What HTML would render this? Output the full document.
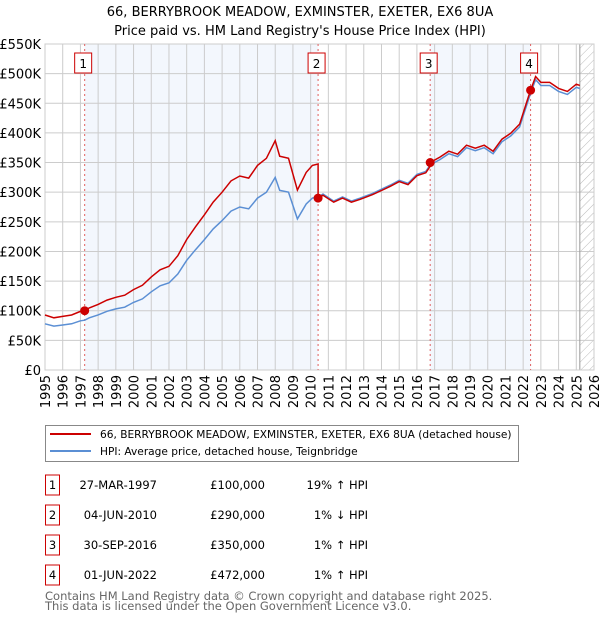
<!DOCTYPE html>
<html><head><meta charset="utf-8"><style>
body{margin:0;background:#fff;font-family:"DejaVu Sans","Liberation Sans",sans-serif;}
#wrap{position:relative;width:600px;height:620px;overflow:hidden}
text{font-family:"DejaVu Sans","Liberation Sans",sans-serif}
</style></head><body><div id="wrap">
<svg id="svg" width="600" height="620"></svg>
</div>
<script>
const hpiDates=[1995.0,1995.5,1996,1996.5,1997.0,1997.24,1997.5,1998,1998.5,1999,1999.5,2000,2000.5,2001,2001.5,2002,2002.5,2003,2003.5,2004,2004.5,2005,2005.5,2006,2006.5,2007,2007.5,2008,2008.25,2008.75,2009.25,2009.75,2010.1,2010.42,2010.7,2011.3,2011.8,2012.3,2012.8,2013.5,2014,2014.5,2015,2015.5,2016,2016.5,2016.75,2017.3,2017.8,2018.3,2018.8,2019.3,2019.8,2020.3,2020.8,2021.3,2021.8,2022.42,2022.7,2023.0,2023.5,2024.0,2024.5,2025.0,2025.2];
const hpiValues=[78,74,76,78,83,84,88,93,99,103,106,114,120,132,142,147,162,185,203,220,238,252,268,275,272,290,300,325,303,300,255,280,290,292,297,285,292,285,290,298,305,312,320,315,330,335,346,355,365,360,375,370,375,365,385,395,410,467,490,480,480,470,465,477,475];
const saleLabels=["1","2","3","4"];
const saleDates=[1997.24,2010.42,2016.75,2022.42];
const salePrices=[100,290,350,472];
const yTicks=[0,50,100,150,200,250,300,350,400,450,500,550];
const xYears=[1995,1996,1997,1998,1999,2000,2001,2002,2003,2004,2005,2006,2007,2008,2009,2010,2011,2012,2013,2014,2015,2016,2017,2018,2019,2020,2021,2022,2023,2024,2025,2026];
const rows=[["1","27-MAR-1997","£100,000","19% ↑ HPI"],["2","04-JUN-2010","£290,000","1% ↓ HPI"],["3","30-SEP-2016","£350,000","1% ↑ HPI"],["4","01-JUN-2022","£472,000","1% ↑ HPI"]];

const L=45,R=594,T=44,B=370;
const X=y=>L+(y-1995)/(2026-1995)*(R-L);
const Y=v=>B-v/550*(B-T);
const svg=document.getElementById('svg');const NS='http://www.w3.org/2000/svg';
function mk(tag,at,name,parent){const e=document.createElementNS(NS,tag);for(const k in at)e.setAttribute(k,at[k]);


(parent||svg).appendChild(e);return e;}
function hpiAt(d){for(let i=1;i<hpiDates.length;i++){if(d<=hpiDates[i]){const t=(d-hpiDates[i-1])/(hpiDates[i]-hpiDates[i-1]);return hpiValues[i-1]+t*(hpiValues[i]-hpiValues[i-1]);}}return hpiValues[hpiValues.length-1];}
mk('rect',{x:X(saleDates[0]),y:T,width:X(saleDates[1])-X(saleDates[0]),height:B-T,fill:'#eef3fc',opacity:0.7},'shade-1');
mk('rect',{x:X(saleDates[2]),y:T,width:X(saleDates[3])-X(saleDates[2]),height:B-T,fill:'#eef3fc',opacity:0.7},'shade-3');
const defs=mk('defs',{},'defs');
const pat=mk('pattern',{id:'hatch',width:6,height:6,patternUnits:'userSpaceOnUse',patternTransform:'rotate(45)'},'hatch-pattern',defs);
mk('line',{x1:0,y1:0,x2:0,y2:6,stroke:'#bbb','stroke-width':1},'hatch-line',pat);
mk('rect',{x:X(2025.2),y:T,width:R-X(2025.2),height:B-T,fill:'url(#hatch)'},'future-hatch');
yTicks.forEach(v=>{mk('line',{x1:L,x2:R,y1:Y(v),y2:Y(v),stroke:'#ccc'},'y-gridline');
const t=mk('text',{x:L-4,y:Y(v)+5,'text-anchor':'end','font-size':13,fill:'#000'},'y-tick-label');t.textContent=v===0?'£0':'£'+v+'K';});
xYears.forEach(yr=>{mk('line',{x1:X(yr),x2:X(yr),y1:T,y2:B,stroke:'#ccc'},'x-gridline');
const t=mk('text',{transform:`translate(${X(yr)+5},${B+5}) rotate(-90)`,'text-anchor':'end','font-size':13,fill:'#000'},'x-tick-label');t.textContent=yr;});
mk('line',{x1:X(2025.2),x2:X(2025.2),y1:T,y2:B,stroke:'#999'},'data-end-line');
mk('rect',{x:L,y:T,width:R-L,height:B-T,fill:'none',stroke:'#ccc'},'plot-border');
saleDates.forEach(d=>mk('line',{x1:X(d),x2:X(d),y1:T,y2:B,stroke:'#e06060','stroke-dasharray':'2,3'},'sale-marker-line'));
let p='';hpiDates.forEach((d,i)=>p+=(i?'L':'M')+X(d).toFixed(1)+','+Y(hpiValues[i]).toFixed(1));
mk('path',{d:p,fill:'none',stroke:'#5b8fd4','stroke-width':1.5},'hpi-line');
const ratios=saleDates.map((d,i)=>salePrices[i]/hpiAt(d));
let rp='';hpiDates.forEach((d,i)=>{let k=0;for(let j=0;j<saleDates.length;j++)if(d>=saleDates[j])k=j;
if(saleDates.indexOf(d)>0){const j=saleDates.indexOf(d);rp+='L'+X(d).toFixed(1)+','+Y(hpiValues[i]*ratios[j-1]).toFixed(1);}
rp+=(i?'L':'M')+X(d).toFixed(1)+','+Y(hpiValues[i]*ratios[k]).toFixed(1);
if(i+1<hpiDates.length){saleDates.forEach((sd,j)=>{if(sd>d&&sd<hpiDates[i+1]){rp+='L'+X(sd).toFixed(1)+','+Y(hpiAt(sd)*ratios[Math.max(0,j-1)]).toFixed(1)+'L'+X(sd).toFixed(1)+','+Y(salePrices[j]).toFixed(1);}});}});
mk('path',{d:rp,fill:'none',stroke:'#cc0000','stroke-width':1.5},'property-line');
saleDates.forEach((d,i)=>{mk('circle',{cx:X(d),cy:Y(salePrices[i]),r:4.5,fill:'#cc0000'},'sale-point');
mk('rect',{x:X(d)-10,y:53,width:17,height:20,fill:'#fff',stroke:'#cc0000'},'sale-label-box');
const t=mk('text',{x:X(d)-1.5,y:68,'text-anchor':'middle','font-size':12},'sale-label');t.textContent=saleLabels[i];});
let t=mk('text',{x:300,y:16,'text-anchor':'middle','font-size':13},'chart-title');t.textContent='66, BERRYBROOK MEADOW, EXMINSTER, EXETER, EX6 8UA';
t=mk('text',{x:300,y:35,'text-anchor':'middle','font-size':13},'chart-subtitle');t.textContent="Price paid vs. HM Land Registry's House Price Index (HPI)";
mk('rect',{x:45.5,y:425.5,width:473,height:36,fill:'#fff',stroke:'#888'},'legend-box');
mk('line',{x1:50,x2:91,y1:434,y2:434,stroke:'#cc0000','stroke-width':2},'legend-swatch-property');
t=mk('text',{x:100,y:438,'font-size':10.6},'legend-entry-property');t.textContent='66, BERRYBROOK MEADOW, EXMINSTER, EXETER, EX6 8UA (detached house)';
mk('line',{x1:50,x2:91,y1:451,y2:451,stroke:'#5b8fd4','stroke-width':2},'legend-swatch-hpi');
t=mk('text',{x:100,y:455,'font-size':10.6},'legend-entry-hpi');t.textContent='HPI: Average price, detached house, Teignbridge';
rows.forEach((r,i)=>{const cy=483+i*30;
mk('rect',{x:45.5,y:cy-8,width:14,height:20,fill:'#fff',stroke:'#cc0000'},'table-num-box');
let e=mk('text',{x:52.5,y:cy+6,'text-anchor':'middle','font-size':11.5},'table-num');e.textContent=r[0];
e=mk('text',{x:157,y:cy+6,'text-anchor':'end','font-size':11.5},'table-date');e.textContent=r[1];
e=mk('text',{x:265,y:cy+6,'text-anchor':'end','font-size':11.5},'table-price');e.textContent=r[2];
e=mk('text',{x:368,y:cy+6,'text-anchor':'end','font-size':11.5},'table-hpi-diff');e.textContent=r[3];});
t=mk('text',{x:45,y:600,'font-size':11.5,fill:'#666'},'footer-line-1');t.textContent='Contains HM Land Registry data © Crown copyright and database right 2025.';
t=mk('text',{x:45,y:610,'font-size':11.5,fill:'#666'},'footer-line-2');t.textContent='This data is licensed under the Open Government Licence v3.0.';
</script></body></html>
